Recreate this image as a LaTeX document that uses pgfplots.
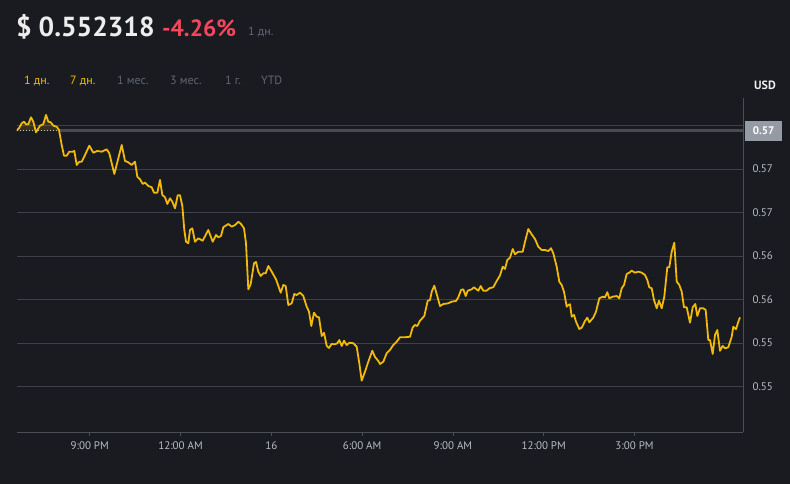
\documentclass[border=0pt]{standalone}
\usepackage{pgfplots}
\pgfplotsset{compat=1.18}
\usepackage{pgfplotstable}
\usepackage{fontspec}
\setmainfont{PT Sans}
\definecolor{bg}{HTML}{1A1B20}
\definecolor{gridgray}{HTML}{3E414A}
\definecolor{axisgray}{HTML}{4A4E58}
\definecolor{ticktext}{HTML}{B7BDC6}
\definecolor{binyellow}{HTML}{F0B90B}
\definecolor{binred}{HTML}{F6465D}
\definecolor{dimtext}{HTML}{5E6673}
\definecolor{boxgray}{HTML}{959BA5}
\definecolor{bandgray}{HTML}{484B53}

\pgfplotstableread{
h p
18.589 0.57440
18.675 0.57475
18.754 0.57525
18.830 0.57544
18.896 0.57514
18.972 0.57514
19.061 0.57594
19.137 0.57544
19.226 0.57422
19.358 0.57498
19.467 0.57514
19.557 0.57621
19.633 0.57544
19.712 0.57537
19.798 0.57498
19.910 0.57486
19.986 0.57448
20.075 0.57276
20.151 0.57153
20.241 0.57153
20.326 0.57199
20.439 0.57199
20.492 0.57207
20.571 0.57046
20.657 0.57084
20.736 0.57084
20.845 0.57161
20.987 0.57268
21.119 0.57187
21.251 0.57207
21.397 0.57199
21.562 0.57226
21.648 0.57180
21.813 0.56943
21.912 0.57077
22.058 0.57276
22.167 0.57092
22.276 0.57077
22.388 0.57046
22.497 0.57084
22.573 0.56911
22.662 0.56882
22.751 0.56828
22.827 0.56843
22.936 0.56805
23.049 0.56790
23.125 0.56728
23.234 0.56728
23.323 0.56874
23.399 0.56701
23.488 0.56675
23.564 0.56598
23.653 0.56663
23.729 0.56624
23.818 0.56548
23.908 0.56698
23.984 0.56698
24.060 0.56575
24.126 0.56299
24.182 0.56164
24.258 0.56146
24.314 0.56299
24.390 0.56318
24.479 0.56164
24.588 0.56203
24.733 0.56176
24.918 0.56299
25.064 0.56164
25.173 0.56241
25.249 0.56215
25.338 0.56230
25.414 0.56330
25.579 0.56368
25.692 0.56337
25.801 0.56356
25.910 0.56394
25.999 0.56368
26.098 0.56318
26.164 0.56146
26.240 0.55617
26.319 0.55678
26.428 0.55916
26.494 0.55931
26.570 0.55820
26.650 0.55770
26.735 0.55801
26.815 0.55801
26.901 0.55885
27.013 0.55820
27.155 0.55732
27.310 0.55578
27.396 0.55667
27.475 0.55655
27.561 0.55437
27.674 0.55456
27.760 0.55563
27.839 0.55552
27.948 0.55578
28.057 0.55540
28.169 0.55417
28.245 0.55360
28.321 0.55195
28.410 0.55348
28.500 0.55302
28.576 0.55295
28.665 0.55080
28.741 0.55118
28.830 0.54966
28.906 0.54943
28.995 0.54989
29.104 0.54985
29.180 0.54997
29.246 0.55034
29.326 0.54966
29.402 0.55026
29.491 0.54977
29.577 0.55003
29.709 0.54997
29.821 0.54957
29.907 0.54767
29.986 0.54567
30.095 0.54670
30.204 0.54785
30.336 0.54911
30.426 0.54839
30.535 0.54793
30.591 0.54759
30.700 0.54785
30.812 0.54882
30.921 0.54920
31.030 0.54977
31.143 0.55015
31.252 0.55066
31.417 0.55066
31.582 0.55072
31.671 0.55180
31.747 0.55207
31.823 0.55195
31.912 0.55256
32.054 0.55310
32.167 0.55486
32.243 0.55494
32.299 0.55590
32.385 0.55659
32.464 0.55563
32.573 0.55425
32.682 0.55448
32.847 0.55456
32.959 0.55475
33.102 0.55483
33.178 0.55525
33.267 0.55609
33.343 0.55617
33.422 0.55540
33.488 0.55601
33.620 0.55617
33.696 0.55640
33.838 0.55601
33.918 0.55655
34.003 0.55601
34.116 0.55601
34.202 0.55629
34.334 0.55641
34.446 0.55713
34.555 0.55776
34.644 0.55877
34.720 0.55851
34.796 0.55954
34.885 0.55980
34.975 0.56080
35.051 0.56020
35.160 0.56049
35.305 0.56049
35.381 0.56164
35.490 0.56310
35.602 0.56249
35.711 0.56195
35.820 0.56107
35.933 0.56069
36.042 0.56069
36.151 0.56057
36.240 0.56089
36.316 0.56031
36.428 0.55877
36.514 0.55705
36.593 0.55667
36.669 0.55590
36.759 0.55417
36.811 0.55437
36.868 0.55445
36.924 0.55302
37.000 0.55322
37.066 0.55245
37.175 0.55161
37.254 0.55176
37.363 0.55253
37.439 0.55291
37.505 0.55238
37.637 0.55291
37.727 0.55360
37.836 0.55514
37.948 0.55532
38.024 0.55525
38.100 0.55583
38.166 0.55514
38.278 0.55532
38.410 0.55540
38.496 0.55514
38.576 0.55629
38.652 0.55667
38.741 0.55793
38.827 0.55808
38.906 0.55831
39.015 0.55808
39.124 0.55820
39.236 0.55808
39.345 0.55782
39.421 0.55724
39.487 0.55640
39.567 0.55629
39.643 0.55494
39.732 0.55399
39.808 0.55486
39.897 0.55399
39.983 0.55532
40.082 0.55870
40.148 0.55870
40.228 0.56049
40.313 0.56153
40.393 0.55705
40.479 0.55667
40.558 0.55590
40.634 0.55410
40.723 0.55410
40.832 0.55233
40.921 0.55410
41.007 0.55448
41.073 0.55310
41.163 0.55399
41.272 0.55399
41.351 0.55379
41.437 0.55034
41.493 0.55034
41.582 0.54874
41.658 0.55092
41.734 0.55149
41.823 0.54911
41.912 0.54966
41.988 0.54939
42.097 0.54951
42.210 0.55072
42.263 0.55187
42.352 0.55157
42.428 0.55245
42.484 0.55295
}\price

\begin{document}
\begin{tikzpicture}
\fill[bg] (-16.6pt,-52pt) rectangle (773.4pt,432pt);
\begin{axis}[
  scale only axis,
  width=726.4pt, height=334pt,
  xmin=18.585, xmax=42.583,
  ymin=0.53977, ymax=0.57816,
  axis x line*=bottom, axis y line*=right,
  axis line style={color=axisgray, line width=0.8pt},
  xtick={21,24,27,30,33,36,39},
  xticklabels={9:00 PM,12:00 AM,16,6:00 AM,9:00 AM,12:00 PM,3:00 PM},
  ytick={0.545,0.55,0.555,0.56,0.565,0.57,0.575},
  yticklabels={0.55,0.55,0.56,0.56,0.57,0.57,0.58},
  scaled y ticks=false,
  ymajorgrids,
  grid style={gridgray, line width=0.7pt},
  tick align=outside,
  major tick length=4pt,
  xtick style={axisgray, line width=0.8pt},
  ytick style={draw=none},
  ticklabel style={font=\fontsize{11}{13}\selectfont, text=ticktext},
  xticklabel style={yshift=-2pt},
  yticklabel style={anchor=west, xshift=2pt},
]
\addplot[draw=none, fill=binyellow, fill opacity=0.14] coordinates {
 (18.589,0.5744) (18.675,0.57475) (18.754,0.57525) (18.830,0.57544) (18.896,0.57514)
 (18.972,0.57514) (19.061,0.57594) (19.137,0.57544) (19.226,0.57440) (19.358,0.57498)
 (19.467,0.57514) (19.557,0.57621) (19.633,0.57544) (19.712,0.57537) (19.798,0.57498)
 (19.910,0.57486) (19.986,0.5744)} -- cycle;
\addplot[bandgray, line width=3pt] coordinates {(19.99,0.57440) (42.583,0.57440)};
\addplot[color=white!75!bg, line width=1pt, dotted] coordinates {(18.585,0.57440) (19.99,0.57440)};
\addplot[binyellow, line width=1.8pt, line join=round] table[x=h, y=p] {\price};
\end{axis}
% price label box
\node[fill=boxgray, text=white, font=\bfseries\fontsize{11}{12}\selectfont,
  minimum width=37pt, minimum height=20pt, inner sep=0pt, anchor=west] at (728.4pt,301.3pt) {0.57};
% header
\node[anchor=base west, inner sep=0pt, text=white!92!bg, font=\bfseries\fontsize{27.5}{30}\selectfont] at (-0.6pt,395pt) {\$ 0.552318};
\node[anchor=base west, inner sep=0pt, text=binred, font=\bfseries\fontsize{23.5}{26}\selectfont] at (145.4pt,395pt) {-4.26\%};
\node[anchor=base west, inner sep=0pt, text=dimtext, font=\fontsize{12}{14}\selectfont] at (231.4pt,396pt) {1 дн.};
% tabs
\begin{scope}[every node/.style={anchor=base west, inner sep=0pt, font=\fontsize{12}{14}\selectfont}]
\node[text=binyellow] at (7.4pt,347pt) {1 дн.};
\node[text=binyellow] at (53.4pt,347pt) {7 дн.};
\node[text=dimtext] at (100.4pt,347pt) {1 мес.};
\node[text=dimtext] at (153.4pt,347pt) {3 мес.};
\node[text=dimtext] at (208.4pt,347pt) {1 г.};
\node[text=dimtext] at (244.4pt,347pt) {YTD};
\end{scope}
\node[anchor=base west, inner sep=0pt, text=white!92!bg, font=\bfseries\fontsize{12}{14}\selectfont] at (737.4pt,342pt) {USD};
\pgfresetboundingbox
\path (-16.6pt,-52pt) rectangle (773.4pt,432pt);
\end{tikzpicture}
\end{document}
